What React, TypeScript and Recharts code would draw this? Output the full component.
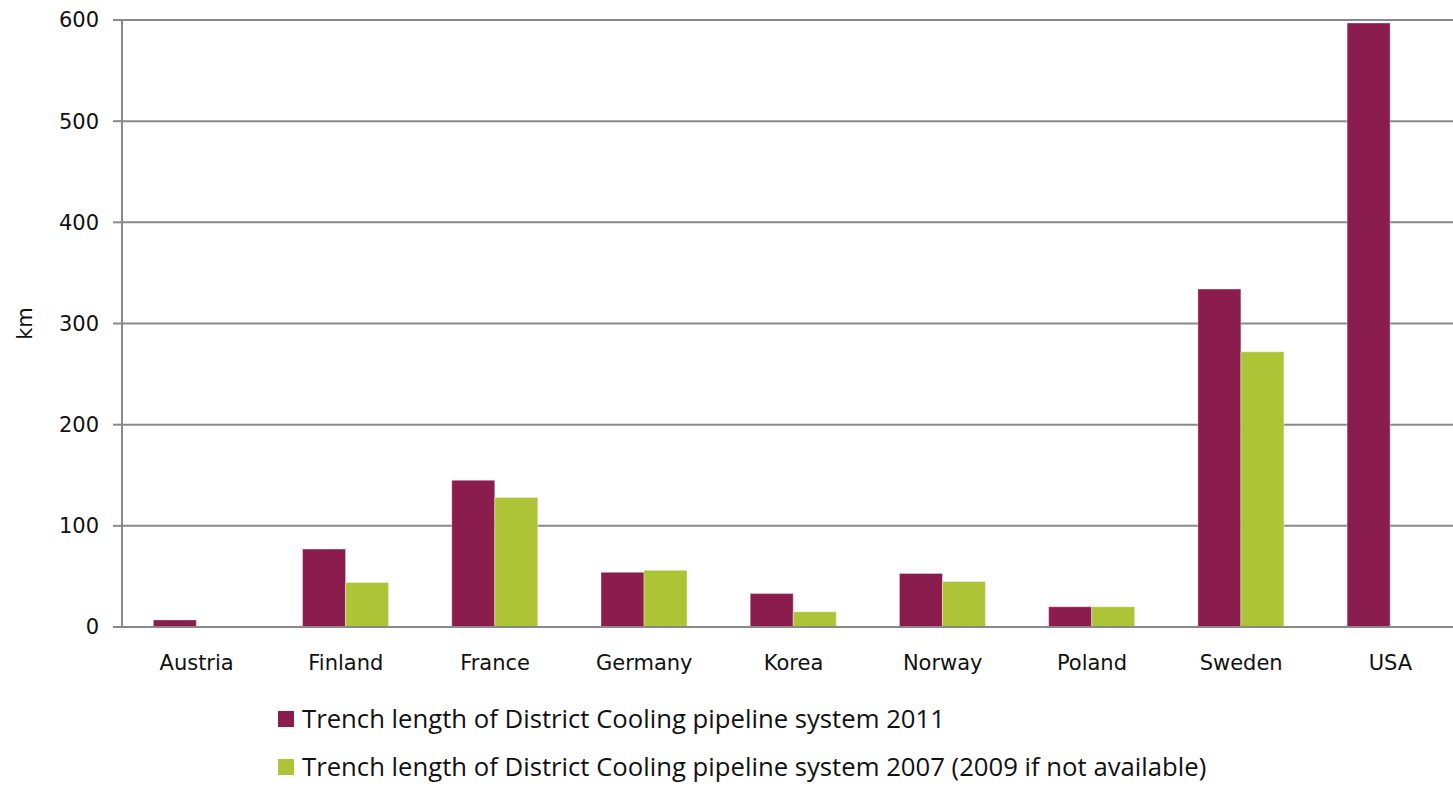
import { BarChart, Bar, XAxis, YAxis, CartesianGrid, Label } from 'recharts'

// countries along the x axis
const countries = ['Austria', 'Finland', 'France', 'Germany', 'Korea', 'Norway', 'Poland', 'Sweden', 'USA']

// trench length in km
const length2011 = [7, 77, 145, 54, 33, 53, 20, 334, 597]
const length2007 = [null, 44, 128, 56, 15, 45, 20, 272, null]

const yTicks = [0, 100, 200, 300, 400, 500, 600]

const series = [
	{ key: 'y2011', name: 'Trench length of District Cooling pipeline system 2011', color: '#8B1C4E' },
	{ key: 'y2007', name: 'Trench length of District Cooling pipeline system 2007 (2009 if not available)', color: '#AEC437' },
]

const data = countries.map((country, i) => ({
	country,
	y2011: length2011[i],
	y2007: length2007[i],
}))

const AXIS = '#898989'
const tickFont = { fontFamily: 'DejaVu Sans', fontSize: 21, fill: '#111' }

export default function App() {
	return (
		<div
			style={{
				position: 'absolute',
				left: 0,
				top: 0,
				width: 1453,
				height: 786,
				overflow: 'hidden',
				background: '#fff',
			}}
		>
			<BarChart
				width={1480}
				height={786}
				data={data}
				margin={{ top: 20, right: 15, bottom: 129, left: 0 }}
				barCategoryGap="21%"
				barGap={0}
			>
				<CartesianGrid vertical={false} stroke={AXIS} strokeWidth={2} />
				<XAxis
					dataKey="country"
					axisLine={{ stroke: AXIS, strokeWidth: 2 }}
					tickLine={false}
					tickSize={0}
					tickMargin={28}
					height={30}
					tick={tickFont}
					interval={0}
				/>
				<YAxis
					width={122}
					domain={[0, 600]}
					ticks={yTicks}
					axisLine={{ stroke: AXIS, strokeWidth: 2 }}
					tickLine={{ stroke: AXIS, strokeWidth: 2 }}
					tickSize={9}
					tickMargin={14}
					tick={tickFont}
				>
					<Label
						value="km"
						angle={-90}
						position="insideLeft"
						offset={25}
						style={{ textAnchor: 'middle', fontFamily: 'DejaVu Sans', fontSize: 21, fill: '#111' }}
					/>
				</YAxis>
				{series.map((s) => (
					<Bar
						key={s.key}
						dataKey={s.key}
						name={s.name}
						fill={s.color}
						stroke="rgba(255,255,255,0.35)"
						strokeWidth={1}
						isAnimationActive={false}
					/>
				))}
			</BarChart>
			{/* legend below the plot */}
			<div style={{ position: 'absolute', left: 278, top: 705 }}>
				{series.map((s, i) => (
					<div
						key={s.key}
						style={{
							display: 'flex',
							alignItems: 'center',
							height: 27,
							lineHeight: 1,
							marginBottom: i === 0 ? 21 : 0,
							fontFamily: 'Open Sans',
							fontSize: 25.7,
							color: '#111',
							whiteSpace: 'nowrap',
						}}
					>
						<span style={{ width: 16, height: 16, background: s.color, marginRight: 8, display: 'inline-block' }} />
						{s.name}
					</div>
				))}
			</div>
		</div>
	)
}
